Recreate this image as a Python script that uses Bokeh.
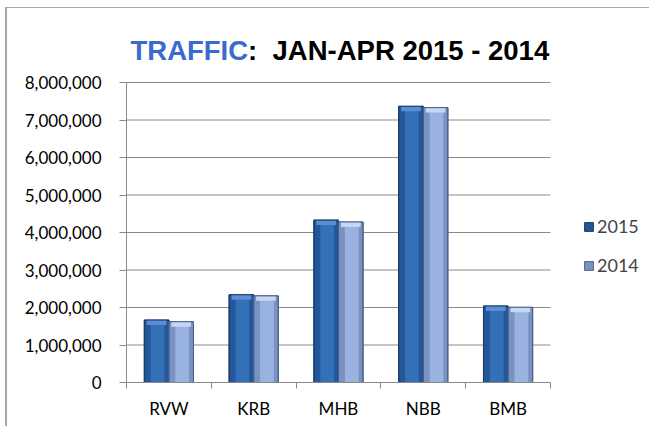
import numpy as np
from bokeh.plotting import figure
from bokeh.models import Range1d, FixedTicker, NumeralTickFormatter, Label, Legend, LegendItem
from bokeh.embed import file_html
from bokeh.resources import INLINE

# ---- data ----
categories = ["RVW", "KRB", "MHB", "NBB", "BMB"]
traffic_2015 = [1665000, 2340000, 4330000, 7365000, 2040000]
traffic_2014 = [1620000, 2310000, 4280000, 7330000, 2005000]
series_names = ["2015", "2014"]
y_ticks = [0, 1000000, 2000000, 3000000, 4000000, 5000000, 6000000, 7000000, 8000000]
y_max = 8000000
title_blue = "TRAFFIC"
title_black = ":\u00a0 JAN-APR 2015 - 2014"

# ---- figure ----
W, H = 644, 419
n = len(categories)
# frame extends past the data area so that title and legend sit inside it
p = figure(width=W, height=H, output_backend="svg", toolbar_location=None,
           x_range=Range1d(0, 6.05), y_range=Range1d(0, 9867000),
           min_border_left=119, min_border_right=12, min_border_top=4, min_border_bottom=45)
p.styles = {"margin-left": "5px", "margin-top": "7px",
            "border-left": "2px solid #a6a6a6", "border-top": "1px solid #a6a6a6"}
p.outline_line_color = None
p.background_fill_color = "white"
p.border_fill_color = "white"

font = "Lato"
grey = "#8a8a8a"

centers = np.arange(n) + 0.5
bounds = list(np.arange(n + 1).astype(float))

# y axis
p.yaxis.ticker = FixedTicker(ticks=y_ticks)
p.yaxis.bounds = (0, y_max)
p.yaxis.formatter = NumeralTickFormatter(format="0,0")
p.yaxis.major_tick_out = 7
p.yaxis.major_tick_in = 0
p.yaxis.minor_tick_out = 0
p.yaxis.minor_tick_in = 0
p.yaxis.axis_line_color = grey
p.yaxis.major_tick_line_color = grey
p.yaxis.major_label_text_font = font
p.yaxis.major_label_text_font_size = "17px"
p.yaxis.major_label_text_color = "black"
p.yaxis.major_label_standoff = 18

# x axis
p.xaxis.ticker = FixedTicker(ticks=list(centers), minor_ticks=bounds)
p.xaxis.bounds = (0, n)
p.xaxis.major_label_overrides = {float(c): name for c, name in zip(centers, categories)}
p.xaxis.major_tick_out = 0
p.xaxis.major_tick_in = 0
p.xaxis.minor_tick_out = 6
p.xaxis.minor_tick_in = 0
p.xaxis.minor_tick_line_color = grey
p.xaxis.axis_line_color = grey
p.xaxis.major_label_text_font = font
p.xaxis.major_label_text_font_size = "17px"
p.xaxis.major_label_text_color = "black"
p.xaxis.major_label_standoff = 9

p.xgrid.visible = False
p.ygrid.visible = False
# horizontal grid lines over the data area only
p.segment(x0=[0] * len(y_ticks[1:]), x1=[n] * len(y_ticks[1:]), y0=y_ticks[1:], y1=y_ticks[1:],
          line_color=grey, line_width=1)

# ---- bars ----
bw = 0.29
t15 = np.array(traffic_2015, dtype=float)
t14 = np.array(traffic_2014, dtype=float)
x15 = centers - bw / 2
x14 = centers + bw / 2
bevel = 130000

r15 = p.vbar(x=x15, top=t15, width=bw, fill_color="#24579a", line_color="#1b3a66", line_width=1)
p.vbar(x=x15 + bw * 0.04, top=t15, width=bw * 0.56, fill_color="#3370b8", line_color=None)
p.vbar(x=x15, bottom=t15 - bevel, top=t15, width=bw * 0.8, fill_color="#5a8fd6", line_color=None)
p.vbar(x=x15, top=t15, width=bw, fill_alpha=0, line_color="#1b3a66", line_width=1)

r14 = p.vbar(x=x14, top=t14, width=bw, fill_color="#7a92c2", line_color="#4a5f8a", line_width=1)
p.vbar(x=x14 + bw * 0.04, top=t14, width=bw * 0.56, fill_color="#9ab2df", line_color=None)
p.vbar(x=x14, bottom=t14 - bevel, top=t14, width=bw * 0.8, fill_color="#c6d7f3", line_color=None)
p.vbar(x=x14, top=t14, width=bw, fill_alpha=0, line_color="#4a5f8a", line_width=1)

# ---- legend ----
legend = Legend(items=[LegendItem(label=series_names[0], renderers=[r15]),
                       LegendItem(label=series_names[1], renderers=[r14])],
                location=(457, 106), label_text_font=font, label_text_font_size="18px",
                glyph_width=11, glyph_height=11, label_standoff=3, spacing=17,
                padding=0, margin=0, border_line_color=None, background_fill_alpha=0)
p.add_layout(legend)

# ---- title ----
title_y = 8860000
title_font_size = "27.5px"
p.add_layout(Label(x=0.047, y=title_y, text=title_blue, text_align="left", text_baseline="alphabetic",
                   text_font="Liberation Sans", text_font_style="bold", text_font_size=title_font_size,
                   text_color="#3a6bcc"))
p.add_layout(Label(x=1.434, y=title_y, text=title_black, text_align="left", text_baseline="alphabetic",
                   text_font="Liberation Sans", text_font_style="bold", text_font_size=title_font_size,
                   text_color="black"))

open("out.html", "w").write(file_html(p, INLINE))
